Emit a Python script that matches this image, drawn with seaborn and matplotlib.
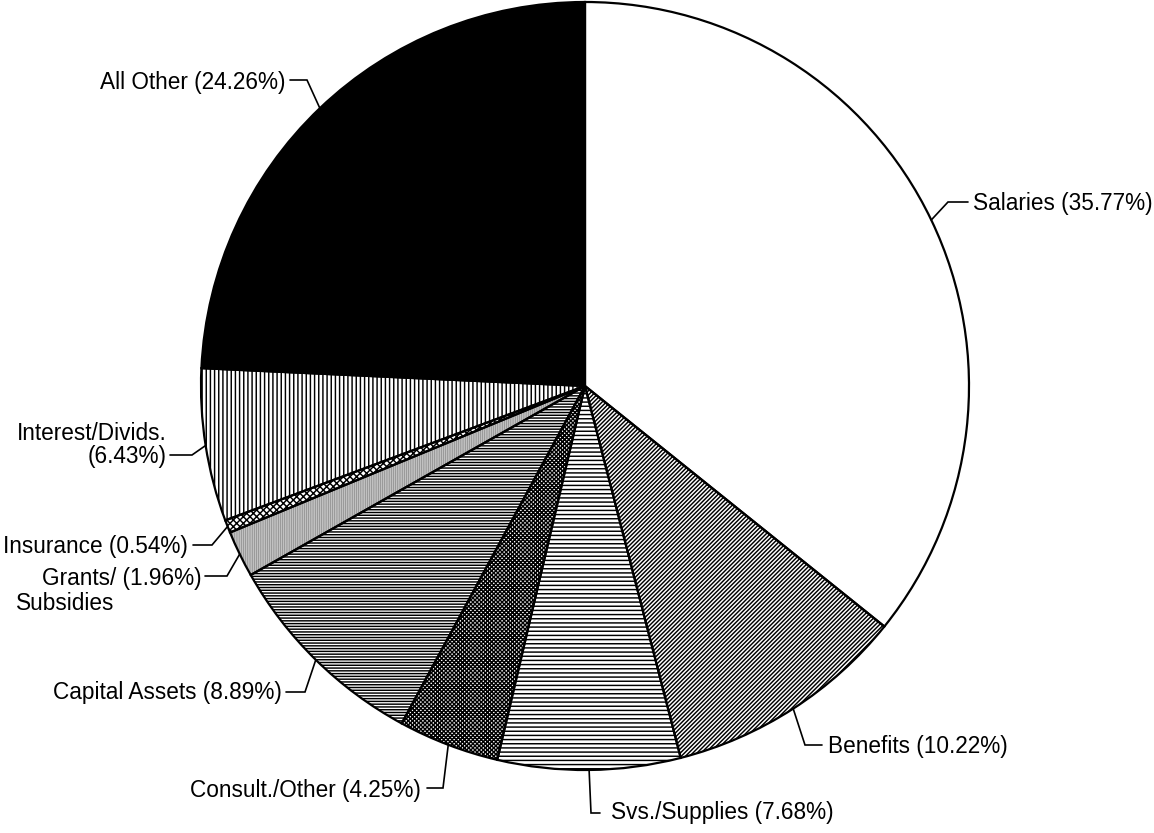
import numpy as np
import matplotlib
matplotlib.use("Agg")
import matplotlib.pyplot as plt
import seaborn as sns

# ---- data ----
categories = ["Salaries", "Benefits", "Svs./Supplies", "Consult./Other",
              "Capital Assets", "Grants/", "Insurance", "Interest/Divids.",
              "All Other"]
shares = [35.77, 10.22, 7.68, 4.25, 8.89, 1.96, 0.54, 6.43, 24.26]
extra_line = {"Grants/": "Subsidies"}

# ---- styles ----
face_colors = ["white", "white", "white", "white", "white", "white", "white", "white", "black"]
hatch_colors = ["black", "black", "black", "black", "black", "#9a9a9a", "black", "black", "black"]
hatches = ["", "/" * 8, "-" * 4, "x" * 8, "-" * 6, "|" * 9, "x" * 5, "|" * 4, ""]

sns.set_theme(style="white")
plt.rcParams["font.family"] = ["Liberation Sans", "DejaVu Sans"]
plt.rcParams["hatch.linewidth"] = 1.05

W, H = 1154, 833
fig = plt.figure(figsize=(W / 100, H / 100), dpi=100)
ax = fig.add_axes([0, 0, 1, 1])

cx, cy, R = 585, 386, 384
def P(x, y):
    return (x, H - y)

center = P(cx, cy)
wedges, _ = ax.pie(shares, startangle=90, counterclock=False, center=center,
                   radius=R, colors=face_colors, frame=True,
                   wedgeprops=dict(linewidth=0))
for w, h, hc in zip(wedges, hatches, hatch_colors):
    w.set_hatch(h)
    w.set_edgecolor(hc)
outline, _ = ax.pie(shares, startangle=90, counterclock=False, center=center,
                    radius=R, colors=["none"] * len(shares), frame=True,
                    wedgeprops=dict(linewidth=1.6, edgecolor="black", fill=False))

# label layout (pixel coords): elbow point, end x of horizontal, text x, text y, ha
layout = [
    ((948, 202), 968, 973, 203, "left"),
    ((805, 745), 822, 828, 746, "left"),
    ((591, 813), 600, 611, 813, "left"),
    ((443, 788), 427, 421, 790, "right"),
    ((305, 692), 286, 282, 692, "right"),
    ((227, 576), 205, 202, 579, "right"),
    ((212, 545), 193, 188, 547, "right"),
    ((192, 455), 170, 167, 445, "right"),
    ((307, 80), 290, 285, 82, "right"),
]

fs = 16.3
for w, name, v, (elb, ex, tx, ty, ha) in zip(wedges, categories, shares, layout):
    mid = np.deg2rad((w.theta1 + w.theta2) / 2)
    sx = center[0] + R * np.cos(mid)
    sy = center[1] + R * np.sin(mid)
    e = P(*elb)
    ax.plot([sx, e[0], ex], [sy, e[1], e[1]], color="black", lw=1.2,
            solid_joinstyle="miter", zorder=5)
    if name == "Interest/Divids.":
        txt = f"{name}\n({v:.2f}%)"
    else:
        txt = f"{name} ({v:.2f}%)"
    ax.text(*P(tx, ty), txt, ha=ha, va="center", fontsize=fs,
            color="black", multialignment="right", linespacing=1.05)
    if name in extra_line:
        ax.text(*P(16, 603), extra_line[name], ha="left", va="center",
                fontsize=fs, color="black")

ax.set_xlim(0, W)
ax.set_ylim(0, H)
ax.set_aspect("auto")
ax.axis("off")
fig.savefig("out.png", dpi=100, facecolor="white")
